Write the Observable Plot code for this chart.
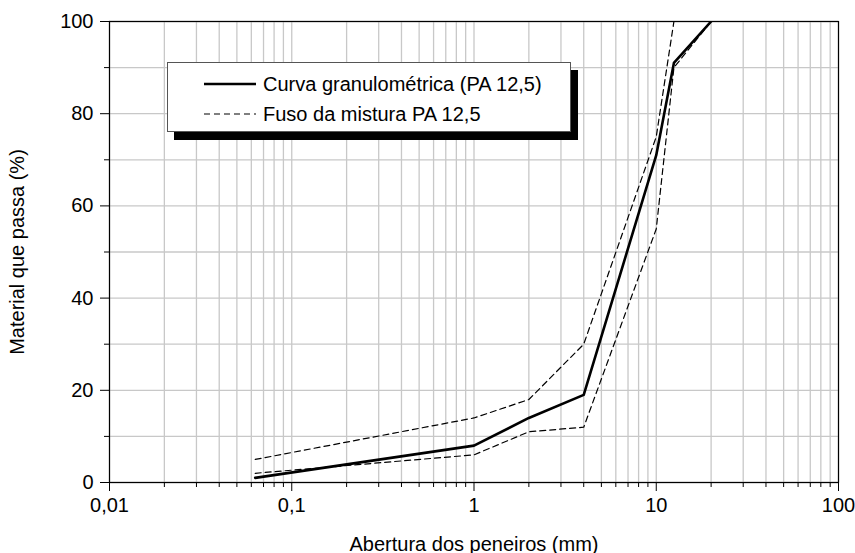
<!DOCTYPE html>
<html>
<head>
<meta charset="utf-8">
<script src="https://cdn.jsdelivr.net/npm/d3@7"></script>
<script src="https://cdn.jsdelivr.net/npm/@observablehq/plot@0.6"></script>
<style>
  html, body { margin: 0; padding: 0; background: #fff; }
  #wrap { position: relative; width: 855px; height: 553px; overflow: hidden; font-family: "Liberation Sans", Arial, sans-serif; }
  #legend { position: absolute; left: 167px; top: 62px; width: 402px; height: 68px; border: 1px solid #555; background: #fff; box-shadow: 7px 8px 0 #000; }
  #legend svg { display: block; }
</style>
</head>
<body>
<div id="wrap"></div>
<script>
// Sieve sizes (mm)
const sieves = [0.063, 1, 2, 4, 10, 12.5, 20];
// Grading curve (PA 12,5) – % passing
const curve = [1, 8, 14, 19, 71, 91, 100];
// Grading envelope limits
const fusoUpper = [5, 14, 18, 30, 75, 100, 100];
const fusoLower = [2, 6, 11, 12, 55, 90, 100];

// Axis ticks
const xMajorTicks = [0.01, 0.1, 1, 10, 100];
const xMajorLabels = ["0,01", "0,1", "1", "10", "100"];
const yMajorTicks = [0, 20, 40, 60, 80, 100];
const yMinorTicks = [10, 30, 50, 70, 90];

const xMinorTicks = [];
for (const d of [0.01, 0.1, 1, 10]) for (let k = 2; k <= 9; k++) xMinorTicks.push(+(d * k).toPrecision(6));
const xGrid = xMajorTicks.concat(xMinorTicks);
const yGrid = d3.range(0, 101, 10);

const toRows = (vals) => sieves.map((x, i) => ({x, y: vals[i]}));
const curveRows = toRows(curve);
const upperRows = toRows(fusoUpper);
const lowerRows = toRows(fusoLower);

const labelOf = new Map(xMajorTicks.map((t, i) => [t, xMajorLabels[i]]));

const chart = Plot.plot({
  width: 855,
  height: 553,
  marginLeft: 109,
  marginRight: 17,
  marginTop: 21,
  marginBottom: 71,
  style: { fontFamily: "'Liberation Sans', Arial, sans-serif", fontSize: "20px", color: "#000", background: "#fff" },
  x: { type: "log", domain: [0.01, 100] },
  y: { domain: [0, 100] },
  marks: [
    Plot.gridX(xGrid, { stroke: "#c8c8c8", strokeOpacity: 1, strokeWidth: 1.3 }),
    Plot.gridY(yGrid, { stroke: "#c8c8c8", strokeOpacity: 1, strokeWidth: 1.3 }),
    Plot.axisX(xMinorTicks, { tickSize: 5, tickFormat: () => "", label: null }),
    Plot.axisX(xMajorTicks, { tickSize: 9, tickPadding: 6, tickFormat: (d) => labelOf.get(d), label: "Abertura dos peneiros (mm)", labelAnchor: "center", labelArrow: "none", labelOffset: 68 }),
    Plot.axisY(yMinorTicks, { tickSize: 5, tickFormat: () => "", label: null }),
    Plot.axisY(yMajorTicks, { tickSize: 9, tickPadding: 7, label: "Material que passa (%)", labelAnchor: "center", labelArrow: "none", labelOffset: 100 }),
    Plot.line(upperRows, { x: "x", y: "y", stroke: "#000", strokeWidth: 1.2, strokeDasharray: "6,4", clip: true }),
    Plot.line(lowerRows, { x: "x", y: "y", stroke: "#000", strokeWidth: 1.2, strokeDasharray: "6,4", clip: true }),
    Plot.line(curveRows, { x: "x", y: "y", stroke: "#000", strokeWidth: 2.6, clip: true }),
    Plot.frame({ stroke: "#000", strokeWidth: 1.2 })
  ]
});

const wrap = document.getElementById("wrap");
wrap.appendChild(chart);

const legend = document.createElement("div");
legend.id = "legend";
legend.innerHTML = `
<svg width="402" height="68" font-family="'Liberation Sans', Arial, sans-serif" font-size="20">
  <line x1="36" x2="88" y1="21" y2="21" stroke="#000" stroke-width="2.6"/>
  <text x="95" y="21" dy="0.35em" fill="#000">Curva granulométrica (PA 12,5)</text>
  <line x1="36" x2="88" y1="51" y2="51" stroke="#000" stroke-width="1.2" stroke-dasharray="6,4"/>
  <text x="95" y="51" dy="0.35em" fill="#000">Fuso da mistura PA 12,5</text>
</svg>`;
wrap.appendChild(legend);
</script>
</body>
</html>
